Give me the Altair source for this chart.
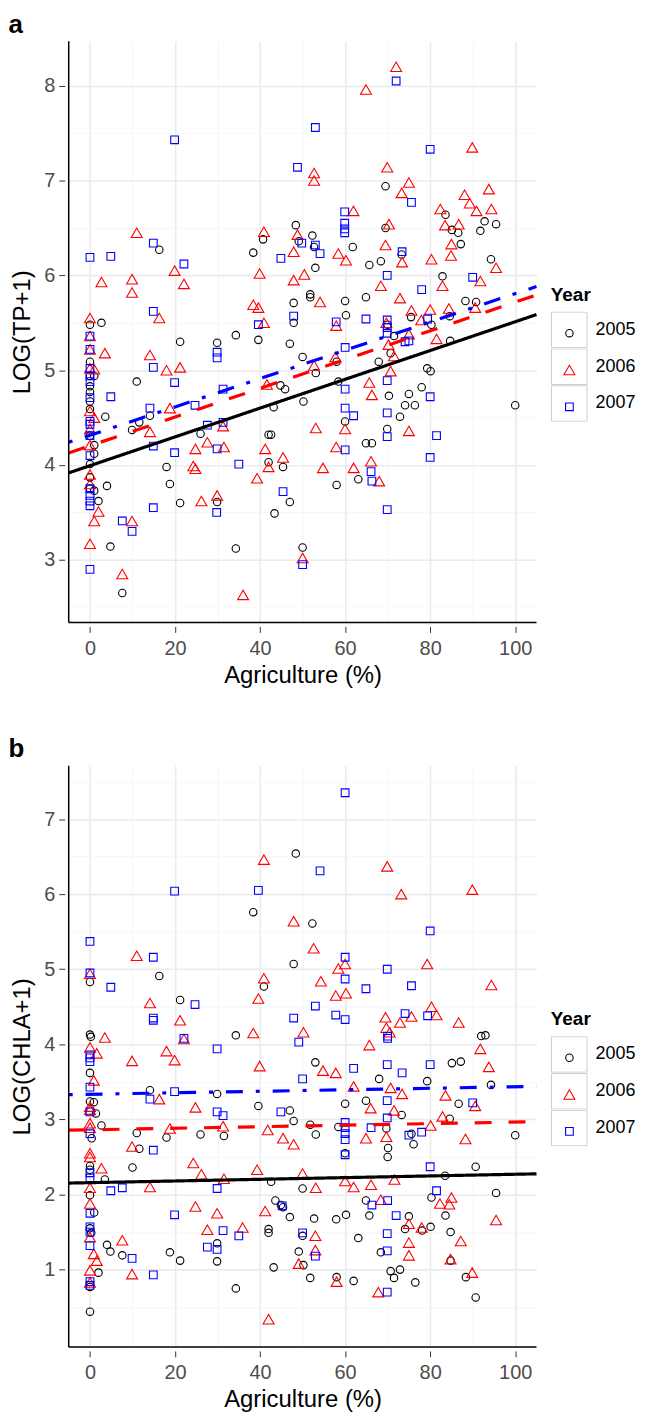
import altair as alt
import pandas as pd

FONT = "Liberation Sans"

years = ["2005", "2006", "2007"]
box_keys = ["k2005", "k2006", "k2007"]
point_shapes = ["circle", "triangle-up", "square"]
point_colors = ["#000000", "#FF0000", "#0000FF"]
point_sizes = [56, 121, 60]
line_colors = ["#000000", "#FF0000", "#0000FF"]
line_dashes = [[1, 0], [17, 17], [4, 13, 17, 13]]

# ---------------- Panel a: LOG(TP+1) ----------------
a05_x = [16.3, 0, 2.7, 38.4, 40.7, 48.4, 47.9, 47.9, 21.2, 29.9, 34.3, 39.6, 47.0,
         69.5, 83.6, 85.1, 86.6, 87.2, 92.8, 95.5, 91.8, 94.3, 82.9, 88.3, 90.8, 84.6, 80.3, 84.7, 75.5,
         64.9, 60.0, 60.2, 69.5, 73.3, 68.4, 65.7, 61.8, 49.1, 52.3, 52.7, 53.0, 51.8, 51.8, 70.0,
         71.5, 50.0, 53.1, 58.0, 67.9, 70.7, 79.3, 80.1, 58.4, 50.2, 70.3, 75.0, 78.0, 74.1, 76.4, 72.9,
         100.0, 60.0, 69.9, 64.9, 66.3, 63.1, 58.0, 50.0,
         0, 0, 0, 0, 0, 0, 0, 0, 0, 0, 1, 1, 1, 1, 2, 3.6, 4.0, 4.8, 7.6, 11.0, 9.9, 11.6, 14.1,
         18.0, 18.8, 21.2, 26.0, 29.9, 34.3, 42.0, 42.0, 42.6, 43.2, 44.8, 45.9, 45.4, 43.4, 47.0]
a05_y = [6.27, 5.48, 5.50, 6.24, 6.38, 6.53, 5.71, 5.50, 5.30, 5.29, 5.37, 5.32, 5.28,
         6.94, 6.64, 6.48, 6.45, 6.33, 6.57, 6.54, 6.47, 6.17, 5.99, 5.73, 5.72, 5.57, 5.48, 5.31, 5.56,
         5.77, 5.73, 5.58, 6.50, 6.22, 6.15, 6.11, 6.30, 6.36, 6.42, 6.30, 6.08, 5.80, 5.77, 5.48,
         5.36, 5.14, 4.97, 5.09, 5.09, 5.18, 5.02, 4.99, 4.88, 4.67, 4.73, 4.75, 4.82, 4.63, 4.63, 4.51,
         4.63, 4.46, 4.38, 4.23, 4.23, 3.85, 3.79, 3.13,
         5.09, 4.94, 4.83, 4.77, 4.67, 4.59, 4.31, 4.01, 3.87, 3.75, 4.94, 4.21, 4.12, 3.73, 3.62, 4.51, 3.78, 3.14, 2.65, 4.88, 4.37, 4.45, 4.52,
         3.98, 3.80, 3.60, 4.33, 3.61, 3.12, 4.03, 4.32, 4.32, 4.61, 4.84, 4.80, 3.98, 3.49, 3.61]

a06_x = [11.0, 2.7, 19.9, 22.1, 9.9, 9.9, 16.3, 0, 39.9, 40.9, 48.8, 47.9, 47.9, 38.4, 39.6, 40.9,
         72.0, 64.9, 89.9, 52.7, 52.7, 69.9, 75.0, 73.3, 93.8, 88.1, 89.3, 90.9, 94.4, 82.4, 83.5, 86.7,
         85.0, 84.9, 95.5, 80.3, 82.9, 91.8, 90.6, 80.0, 84.4, 77.9, 81.5, 75.6, 72.9, 68.4, 69.7, 70.3,
         69.5, 73.4, 60.2, 58.4, 61.95, 50.4, 54.1, 57.9,
         75.0, 52.7, 57.7, 70.2, 71.5, 70.7, 65.7, 66.3, 53.1, 60.0, 75.0, 57.9, 54.8, 62.0, 66.1, 68.0, 50.0,
         0, 0, 0, 0, 0, 0, 0, 0, 0, 1, 1, 1, 2, 3.5, 7.6, 9.9, 14.1, 18.0, 21.2, 18.8, 14.1, 24.8, 24.3,
         24.8, 27.6, 31.5, 31.3, 26.2, 29.9, 36.0, 39.3, 42.0, 41.2, 41.6, 45.4]
a06_y = [6.45, 5.93, 6.05, 5.91, 5.96, 5.82, 5.55, 5.55, 6.02, 6.46, 6.43, 6.25, 5.95, 5.69, 5.66, 5.50,
         8.20, 7.96, 7.35, 7.08, 7.00, 7.14, 6.98, 6.87, 6.91, 6.85, 6.76, 6.68, 6.70, 6.70, 6.53, 6.54,
         6.33, 6.21, 6.08, 6.17, 5.89, 5.94, 5.66, 5.64, 5.65, 5.53, 5.33, 5.63, 5.76, 5.89, 5.50, 6.54,
         6.32, 6.14, 6.16, 6.23, 6.68, 6.01, 5.72, 5.47,
         5.38, 5.05, 5.14, 5.27, 5.15, 4.99, 4.87, 4.74, 4.39, 4.38, 4.36, 4.19, 3.97, 3.97, 4.04, 3.83, 3.02,
         5.36, 5.22, 5.02, 4.57, 4.38, 4.21, 3.90, 3.80, 3.17, 5.01, 4.50, 3.41, 3.51, 5.18, 2.85, 3.41, 5.16, 5.00, 5.03, 4.60, 4.35, 4.17, 3.99,
         3.96, 4.24, 4.19, 4.41, 3.62, 3.68, 2.63, 3.86, 3.98, 4.17, 4.85, 4.08]

a07_x = [19.9, 48.8, 14.9, 0, 4.9, 22.1, 14.9, 44.9, 49.8, 39.6, 47.9,
         72.0, 53.0, 80.0, 75.6, 90.0, 78.0, 79.4, 64.9, 69.9, 69.9, 73.4, 59.9, 59.9, 59.9, 59.9, 53.0, 54.1, 57.9,
         69.9, 69.9, 74.1, 75.0, 60.0, 69.9, 60.0, 80.0, 60.0, 62.0, 69.9, 69.9, 81.5, 60.0, 80.0, 66.1, 66.3, 69.9, 50.0,
         0, 0, 0, 0, 0, 0, 0, 0, 0, 0, 0, 0, 0, 0, 0,
         4.9, 7.6, 9.9, 14.9, 19.9, 14.1, 24.7, 14.9, 19.9, 14.9, 27.6, 29.9, 31.3, 31.3, 29.9, 29.9, 29.8, 35.0, 45.4]
a07_y = [7.43, 7.14, 6.34, 6.19, 6.20, 6.12, 5.62, 6.18, 6.34, 5.48, 5.57,
         8.05, 7.56, 7.33, 6.77, 5.98, 5.85, 5.54, 5.54, 5.53, 6.00, 6.25, 6.67, 6.55, 6.49, 6.45, 6.32, 6.23, 5.51,
         5.39, 5.45, 5.30, 5.31, 5.24, 4.89, 4.80, 4.72, 4.60, 4.52, 4.55, 4.30, 4.31, 4.16, 4.08, 3.93, 3.83, 3.53, 2.95,
         5.36, 5.22, 5.02, 4.94, 4.88, 4.71, 4.46, 4.43, 4.31, 4.10, 3.75, 3.68, 3.62, 3.57, 2.90,
         4.72, 3.41, 3.30, 5.03, 4.87, 4.60, 4.63, 4.20, 4.13, 3.55, 4.42, 4.17, 4.45, 4.80, 5.19, 5.13, 3.50, 4.01, 3.72]

# ---------------- Panel b: LOG(CHLA+1) ----------------
b05_x = [48.4, 38.4, 0, 16.3, 47.9, 40.9, 21.2, 0, 0.2, 34.3,
         52.3, 92.0, 93.0, 53.0, 85.1, 87.2,
         0, 14.1, 29.9, 39.6, 47.0, 47.9, 0, 0.9, 1.4, 2.7, 11.0, 18.0, 26.0, 31.5, 0.4, 11.6, 0, 0, 10.0,
         3.5, 42.6, 0, 1.0, 0, 0.3, 43.6, 44.9, 45.4, 47.0, 42.0, 42.0, 29.9, 4.0, 4.8, 7.6, 2.0, 18.8,
         21.2, 29.9, 43.2, 0, 34.3, 0,
         50.0, 68.0, 79.3, 94.3, 60.0, 64.9, 86.7, 73.3, 84.6, 51.8, 53.1, 58.4, 69.7, 75.6, 76.1, 100.0,
         70.1, 70.0, 60.0, 90.7, 83.5, 95.5, 80.3, 64.9, 52.7, 57.9, 60.2, 65.7, 75.0, 74.1, 78.1, 80.1,
         83.6, 84.8, 50.0, 63.1, 49.1, 68.4, 50.2, 84.8, 70.7, 72.9, 71.5, 51.8, 58.0, 62.0, 76.5, 88.4, 90.7]
b05_y = [6.54, 5.76, 4.83, 4.91, 5.07, 4.77, 4.59, 4.13, 4.10, 4.12,
         5.61, 4.11, 4.12, 3.76, 3.75, 3.77,
         3.62, 3.39, 3.34, 3.18, 3.12, 2.98, 3.24, 3.23, 3.08, 2.92, 2.82, 2.76, 2.80, 2.78, 2.75, 2.61, 2.38, 2.33, 2.36,
         2.20, 2.17, 1.99, 1.76, 1.55, 1.49, 1.92, 1.86, 1.83, 1.70, 1.54, 1.49, 1.35, 1.33, 1.24, 1.19, 0.96, 1.23,
         1.12, 1.11, 1.03, 0.77, 0.75, 0.44,
         2.08, 3.54, 3.51, 3.46, 3.21, 3.25, 3.21, 3.06, 3.01, 2.93, 2.80, 2.90, 2.88, 2.81, 2.67, 2.79,
         2.62, 2.50, 2.55, 2.37, 2.25, 2.02, 1.96, 1.92, 1.68, 1.67, 1.73, 1.72, 1.71, 1.54, 1.52, 1.57,
         1.72, 1.50, 1.45, 1.42, 1.24, 1.23, 1.06, 1.12, 0.98, 1.00, 0.89, 0.89, 0.90, 0.85, 0.83, 0.90, 0.63]

b06_x = [40.9, 47.9, 0, 11.0, 40.9, 39.6, 14.1, 21.2, 22.1, 3.5, 38.4, 0, 1.6, 18.0, 9.9, 19.9, 39.9,
         69.9, 73.2, 89.9, 52.6, 60.0, 58.4, 79.3, 54.3, 94.4, 60.2, 57.8, 80.3, 81.5, 75.6, 69.5, 72.9,
         69.7, 70.5, 86.7, 91.8, 65.7, 50.2, 93.8,
         0.9, 16.3, 24.8, 0, 0, 0, 0, 18.8, 31.3, 41.8, 9.9, 45.4, 47.9, 0, 0, 2.7, 24.3, 26.2, 39.3, 31.5,
         0, 14.1, 0, 0, 24.8, 29.9, 41.2, 27.6, 35.9, 7.6, 0.9, 1.6, 9.9, 0, 0, 42.0,
         54.8, 57.8, 62.0, 70.7, 73.4, 83.6, 90.6, 66.0, 71.5, 82.9, 69.7, 64.9, 80.1, 88.3, 50.0, 60.0,
         62.0, 66.1, 71.6, 53.1, 85.0, 82.3, 84.5, 68.4, 95.5, 75.0, 78.0, 87.2, 53.0, 75.0, 53.0, 75.0,
         49.1, 84.8, 58.0, 89.9, 67.8]
b06_y = [6.46, 5.64, 4.94, 5.18, 4.88, 4.61, 4.55, 4.32, 4.07, 4.09, 4.15, 3.96, 3.88, 3.91, 3.78, 3.79, 3.71,
         6.37, 6.00, 6.06, 5.28, 5.07, 5.01, 5.07, 4.84, 4.79, 4.68, 4.65, 4.50, 4.39, 4.37, 4.36, 4.29,
         4.22, 4.16, 4.29, 3.94, 3.99, 4.16, 3.70,
         3.52, 3.27, 3.16, 3.17, 3.13, 2.95, 2.89, 2.88, 2.91, 2.86, 2.64, 2.75, 2.67, 2.55, 2.50, 2.35, 2.42, 2.27, 2.33, 2.21,
         2.09, 2.10, 1.88, 1.43, 1.84, 1.75, 1.78, 1.53, 1.56, 1.39, 1.21, 1.12, 0.94, 0.99, 0.83, 0.34,
         3.65, 3.62, 3.44, 3.42, 3.34, 3.32, 3.18, 3.15, 3.12, 3.04, 2.77, 2.75, 2.92, 2.74, 2.28, 2.18,
         2.10, 2.13, 2.20, 2.09, 1.96, 1.88, 1.87, 1.93, 1.66, 1.61, 1.56, 1.38, 1.45, 1.36, 1.26, 1.19,
         1.08, 1.14, 0.84, 0.96, 0.70]

b07_x = [19.9, 39.6, 0, 0, 4.9, 14.9, 24.7, 14.9, 14.9, 22.1, 47.9, 49.1, 0, 0, 0, 29.9,
         60.0, 54.1, 80.0, 60.0, 69.9, 60.0, 64.9, 75.6, 53.0, 57.8, 60.0, 74.1, 79.4, 70.0, 70.0, 69.9, 80.0, 62.0,
         0, 14.1, 19.9, 29.9, 31.3, 44.9, 0, 0, 14.9, 0, 0, 4.9, 7.6, 29.9, 0, 0, 0, 0, 19.9, 45.2, 31.3,
         35.0, 27.6, 29.9, 9.9, 14.9, 0, 0,
         50.0, 73.4, 69.9, 90.0, 69.9, 60.0, 60.0, 60.0, 60.0, 60.0, 66.1, 75.0, 78.0, 80.0, 81.5, 66.3,
         70.0, 72.0, 50.0, 69.9, 53.0, 69.9, 69.9]
b07_y = [6.04, 6.05, 5.37, 4.95, 4.76, 5.16, 4.53, 4.35, 4.32, 4.08, 4.35, 4.03, 3.86, 3.82, 3.77, 3.94,
         7.35, 6.31, 5.51, 5.16, 5.00, 4.87, 4.74, 4.78, 4.51, 4.39, 4.33, 4.41, 4.38, 4.11, 4.08, 3.73, 3.73, 3.68,
         3.43, 3.27, 3.37, 3.10, 3.05, 3.10, 3.10, 2.81, 2.59, 2.29, 2.22, 2.05, 2.09, 2.08, 1.75, 1.57, 1.50, 1.32, 1.73, 1.85, 1.52,
         1.45, 1.30, 1.27, 1.15, 0.93, 0.84, 0.79,
         3.54, 3.62, 3.25, 3.22, 3.02, 2.96, 2.89, 2.81, 2.73, 2.53, 2.89, 2.79, 2.83, 2.37, 2.05, 1.86,
         1.92, 1.72, 1.49, 1.48, 1.18, 1.25, 0.70]

# linear fits (intercept, slope) per year
tp_intercept = [3.993, 4.203, 4.314]
tp_slope = [0.01518, 0.01515, 0.01494]
chla_intercept = [2.158, 2.862, 3.335]
chla_slope = [0.00112, 0.00103, 0.00100]

x_domain = [-5, 105]
x_ticks = [0, 10, 20, 30, 40, 50, 60, 70, 80, 90, 100]
tp_domain = [2.34, 8.47]
tp_ticks = [2.5, 3, 3.5, 4, 4.5, 5, 5.5, 6, 6.5, 7, 7.5, 8]
chla_domain = [-0.03, 7.71]
chla_ticks = [0.5, 1, 1.5, 2, 2.5, 3, 3.5, 4, 4.5, 5, 5.5, 6, 6.5, 7, 7.5]

PLOT_W = 470
PLOT_H = 584


def make_axis(title, values, major_mod, label_pad, title_pad):
    major = f"abs(datum.value % {major_mod}) < 1e-9"
    return alt.Axis(
        title=title,
        values=values,
        labelExpr=f"({major}) ? format(datum.value, 'd') : ''",
        labelFont=FONT,
        labelFontSize=20,
        labelColor="#4D4D4D",
        labelPadding=label_pad,
        labelOverlap=False,
        labelFlush=False,
        titleFont=FONT,
        titleFontSize=24,
        titleFontWeight="normal",
        titleColor="#000000",
        titlePadding=title_pad,
        domain=False,
        offset=4,
        ticks=True,
        tickSize=6,
        tickWidth=1,
        tickColor="#333333",
        tickOpacity={"condition": {"test": major, "value": 1}, "value": 0},
        grid=True,
        gridColor={"condition": {"test": major, "value": "#EBEBEB"}, "value": "#F4F4F4"},
        gridWidth={"condition": {"test": major, "value": 1.6}, "value": 0.8},
    )


def panel(letter, xs, ys, intercepts, slopes, ytitle, ydomain, yticks):
    rows = []
    for yr, key, xl, yl in zip(years, box_keys, xs, ys):
        for a, v in zip(xl, yl):
            rows.append({"Agriculture": a, "Value": v, "Year": yr, "YearKey": key})
    pts = pd.DataFrame(rows)

    fit_rows = []
    for yr, b0, b1 in zip(years, intercepts, slopes):
        for xe in x_domain:
            fit_rows.append({"Agriculture": xe, "Value": b0 + b1 * xe, "Year": yr})
    fits = pd.DataFrame(fit_rows)

    x_axis = make_axis("Agriculture (%)", x_ticks, 20, 6, 5)
    y_axis = make_axis(ytitle, yticks, 1, 4, 9)
    xenc = alt.X("Agriculture:Q", scale=alt.Scale(domain=x_domain, nice=False, zero=False), axis=x_axis)
    yenc = alt.Y("Value:Q", scale=alt.Scale(domain=ydomain, nice=False, zero=False), axis=y_axis)

    box_legend = alt.Legend(
        title="Year", orient="none", legendX=484.4, legendY=245.9, padding=0,
        titleFont=FONT, titleFontSize=19, titleFontWeight="bold", titleColor="#000000",
        titlePadding=6.8, labelFont=FONT, labelFontSize=18, labelColor="#000000",
        labelExpr="substring(datum.label, 1)",
        labelOffset=8, symbolType="square", symbolSize=1274, symbolStrokeColor="#CCCCCC",
        symbolFillColor="transparent", symbolStrokeWidth=1, clipHeight=36.7, rowPadding=0,
    )
    sym_legend = alt.Legend(
        title=None, orient="none", legendX=496.6, legendY=275.0, padding=0,
        labelExpr="''", labelFontSize=1, labelOffset=0, clipHeight=36.7, rowPadding=0,
        symbolStrokeWidth=1.1,
    )

    boxes = alt.Chart(pts).transform_filter("false").mark_square(
        filled=False, color="#CCCCCC", strokeWidth=1
    ).encode(
        x=xenc, y=yenc,
        opacity=alt.Opacity("YearKey:N", scale=alt.Scale(type="ordinal", domain=box_keys, range=[1, 1, 1]),
                            legend=box_legend),
    )

    points = alt.Chart(pts).mark_point(filled=False, strokeWidth=1.1, opacity=1).encode(
        x=xenc, y=yenc,
        shape=alt.Shape("Year:N", scale=alt.Scale(domain=years, range=point_shapes), legend=sym_legend),
        color=alt.Color("Year:N", scale=alt.Scale(domain=years, range=point_colors), legend=sym_legend),
        size=alt.Size("Year:N", scale=alt.Scale(type="ordinal", domain=years, range=point_sizes),
                      legend=sym_legend),
    )

    lines = []
    for yr, col, dash in zip(years, line_colors, line_dashes):
        lines.append(
            alt.Chart(fits).transform_filter(f"datum.Year == '{yr}'").mark_line(
                color=col, strokeWidth=3.2, strokeDash=dash, strokeCap="butt"
            ).encode(x=xenc, y=yenc)
        )

    one = pd.DataFrame({"k": [0]})
    left_line = alt.Chart(one).mark_rule(color="#000000", strokeWidth=1.5).encode(
        x=alt.value(0), y=alt.value(0), y2=alt.value("height")
    )
    bottom_line = alt.Chart(one).mark_rule(color="#000000", strokeWidth=1.5).encode(
        x=alt.value(0), x2=alt.value("width"), y=alt.value("height")
    )

    return alt.layer(boxes, points, *lines, left_line, bottom_line).properties(
        width=PLOT_W,
        height=PLOT_H,
        title=alt.TitleParams(
            text=letter, anchor="start", frame="bounds", font=FONT, fontSize=26,
            fontWeight="bold", color="#000000", offset=2.7, dx=-2.5,
        ),
    )


pa = panel("a", [a05_x, a06_x, a07_x], [a05_y, a06_y, a07_y], tp_intercept, tp_slope,
           "LOG(TP+1)", tp_domain, tp_ticks)
pb = panel("b", [b05_x, b06_x, b07_x], [b05_y, b06_y, b07_y], chla_intercept, chla_slope,
           "LOG(CHLA+1)", chla_domain, chla_ticks)

chart = alt.vconcat(pa, pb, spacing=49).resolve_scale(
    x="independent", y="independent", color="independent", shape="independent",
    size="independent", opacity="independent",
).resolve_legend(
    color="independent", shape="independent", size="independent", opacity="independent",
).properties(
    padding={"left": 0, "top": 0, "right": 0, "bottom": 0}
).configure(font=FONT).configure_view(strokeWidth=0)

chart.save("out.html", embed_options={"renderer": "svg", "actions": False})
